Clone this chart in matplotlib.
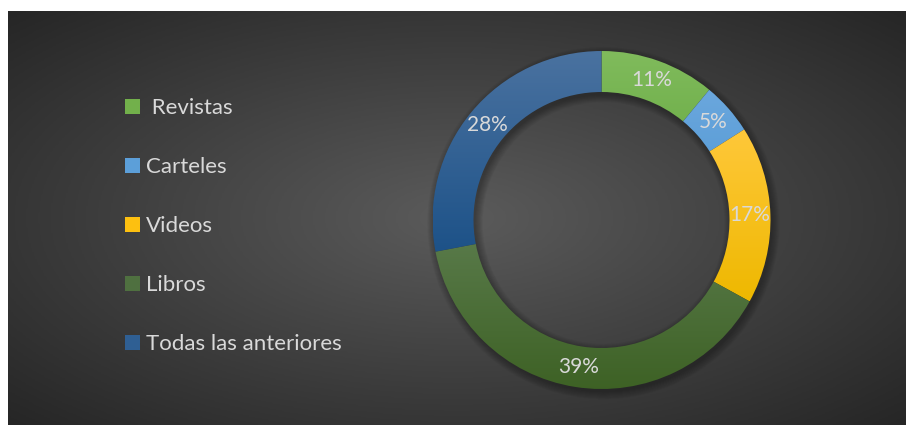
import numpy as np
import matplotlib
matplotlib.use("Agg")
import matplotlib.pyplot as plt
from matplotlib.patches import Patch
from matplotlib.colors import LinearSegmentedColormap

plt.rcParams['font.family'] = ['Lato', 'DejaVu Sans']

labels = [' Revistas', 'Carteles', 'Videos', 'Libros', 'Todas las anteriores']
values = [11, 5, 17, 39, 28]
top_colors = ['#80bb5c', '#6ba7dd', '#ffc83a', '#5c7d4e', '#4a72a0']
bottom_colors = ['#60a43a', '#4f97d4', '#eeb800', '#3d6124', '#1d5288']
legend_colors = ['#72b04b', '#5c9fd9', '#fdc010', '#4f7040', '#2f5f93']
text_color = '#d9d9d9'

W, H = 908, 425
fig = plt.figure(figsize=(W / 100, H / 100), dpi=100)
fig.patch.set_facecolor('white')

# chart area with radial gradient
bg = fig.add_axes([8 / W, 0, 898 / W, 414 / H])
bg.set_axis_off()
yy, xx = np.mgrid[-1:1:300j, -1:1:600j]
r = np.sqrt(xx ** 2 + yy ** 2) / np.sqrt(2)
bg_cmap = LinearSegmentedColormap.from_list('bg', ['#5b5b5b', '#262626'])
bg.imshow(r, cmap=bg_cmap, vmin=0, vmax=1, extent=[0, 1, 0, 1], aspect='auto')
bg.set_xlim(0, 1)
bg.set_ylim(0, 1)

# donut
cx, cy, rad = 601.5, 205, 169
ax = fig.add_axes([(cx - rad) / W, (cy - rad) / H, 2 * rad / W, 2 * rad / H])
ax.set_axis_off()
ring = 1 - 128 / 169

# soft shadow
for k in range(8):
    ax.pie([sum(values)], radius=1.0 + 0.006 * k, center=(0.012, -0.018),
           wedgeprops=dict(width=ring + 0.012 * k, facecolor='black',
                           alpha=0.04, linewidth=0))

wedges, texts, autotexts = ax.pie(
    values, startangle=90, counterclock=False, radius=1.0,
    autopct='%1.0f%%', pctdistance=0.88,
    wedgeprops=dict(width=ring, linewidth=0),
    textprops=dict(color=text_color, fontsize=15))

grad = np.linspace(0, 1, 256).reshape(-1, 1)
for w, c0, c1 in zip(wedges, top_colors, bottom_colors):
    v = w.get_path().vertices
    ymin, ymax = v[:, 1].min(), v[:, 1].max()
    cm = LinearSegmentedColormap.from_list('g', [c1, c0])
    im = ax.imshow(grad, cmap=cm, extent=[-1.1, 1.1, ymin, ymax],
                   origin='lower', aspect='auto', zorder=w.get_zorder())
    im.set_clip_path(w)
    w.set_facecolor('none')

for t in autotexts:
    t.set_zorder(10)

ax.set_xlim(-1, 1)
ax.set_ylim(-1, 1)

handles = [Patch(facecolor=c, edgecolor='none') for c in legend_colors]
fig.legend(handles, labels, loc='upper left',
           bbox_to_anchor=(105 / W, 1 - 78 / H), frameon=False,
           fontsize=16, labelcolor=text_color,
           handlelength=0.68, handleheight=0.68, handletextpad=0.25,
           labelspacing=1.76)

fig.savefig('out.png', dpi=100, facecolor='white')
